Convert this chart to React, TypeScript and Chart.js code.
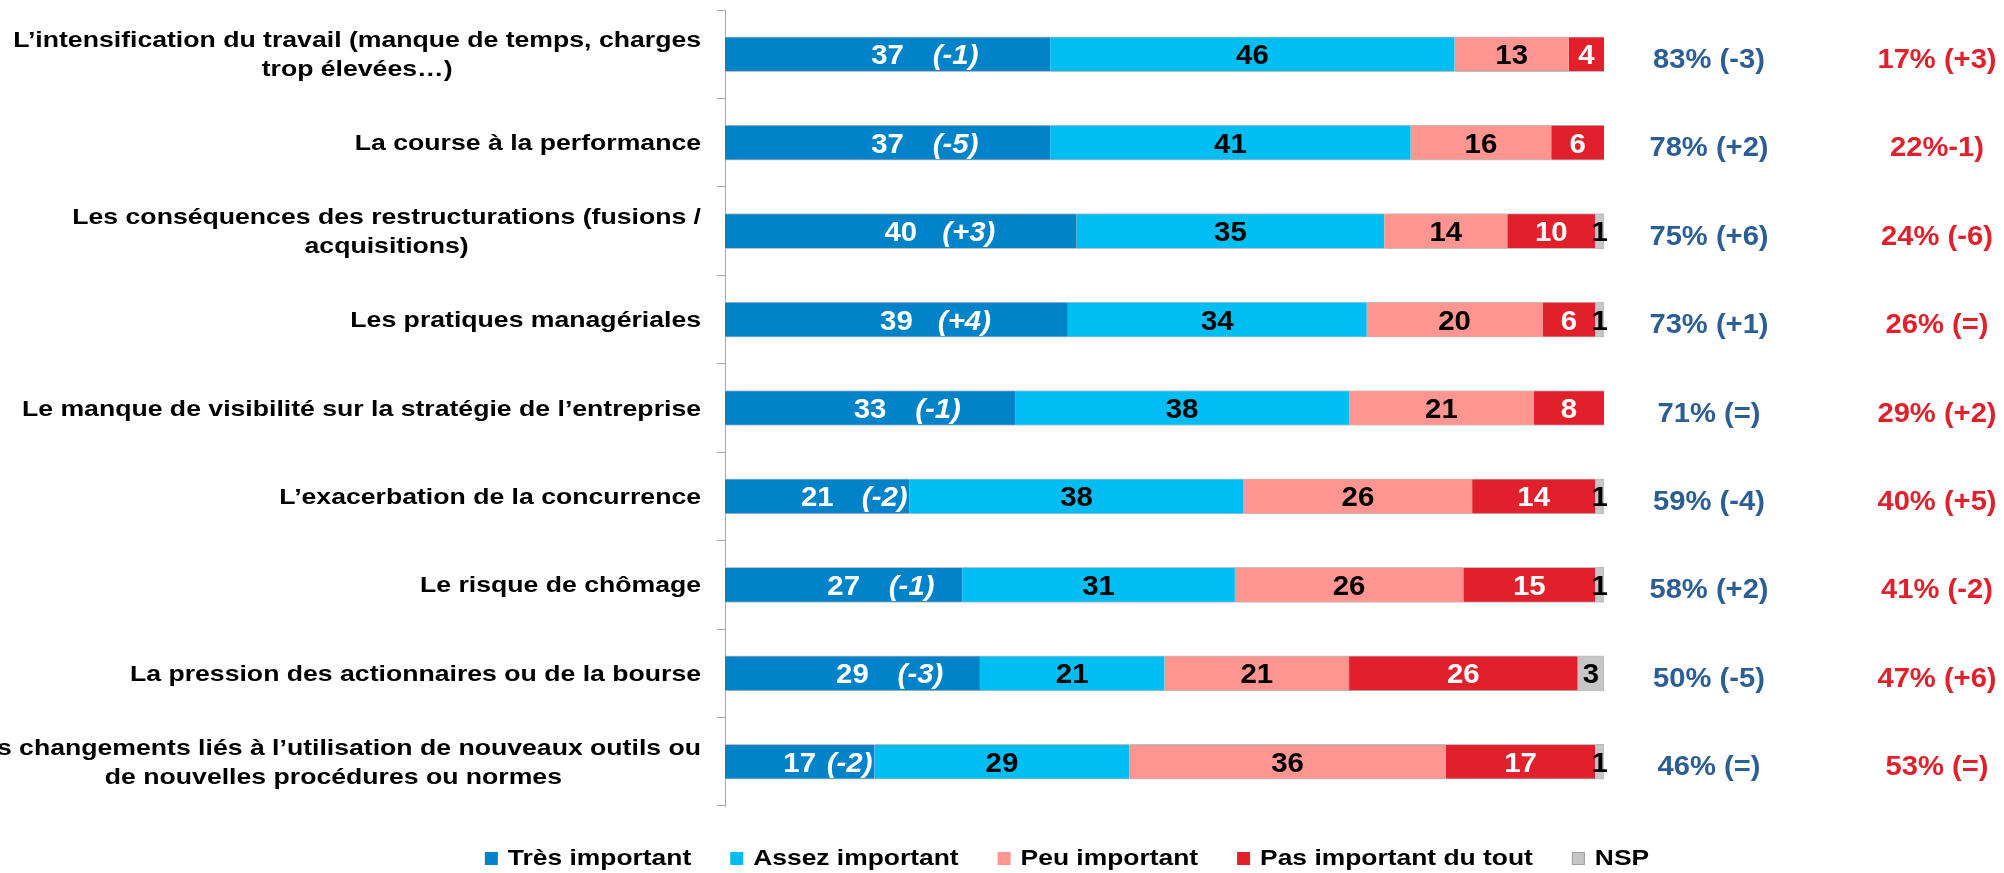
import React, { useEffect, useRef } from "react";
import { Chart, registerables } from "chart.js";

Chart.register(...registerables);

// ---------- Data ----------
const categories: string[][] = [
  ["L’intensification du travail (manque de temps, charges", "trop élevées…)"],
  ["La course à la performance"],
  ["Les conséquences des restructurations (fusions /", "acquisitions)"],
  ["Les pratiques managériales"],
  ["Le manque de visibilité sur la stratégie de l’entreprise"],
  ["L’exacerbation de la concurrence"],
  ["Le risque de chômage"],
  ["La pression des actionnaires ou de la bourse"],
  ["Les changements liés à l’utilisation de nouveaux outils ou", "de nouvelles procédures ou normes"],
];

const seriesNames = ["Très important", "Assez important", "Peu important", "Pas important du tout", "NSP"];

const tresImportant = [37, 37, 40, 39, 33, 21, 27, 29, 17];
const assezImportant = [46, 41, 35, 34, 38, 38, 31, 21, 29];
const peuImportant = [13, 16, 14, 20, 21, 26, 26, 21, 36];
const pasImportant = [4, 6, 10, 6, 8, 14, 15, 26, 17];
const nsp = [0, 0, 1, 1, 0, 1, 1, 3, 1];

const evolutions = ["(-1)", "(-5)", "(+3)", "(+4)", "(-1)", "(-2)", "(-1)", "(-3)", "(-2)"];
const totalImportant = ["83% (-3)", "78% (+2)", "75% (+6)", "73% (+1)", "71% (=)", "59% (-4)", "58% (+2)", "50% (-5)", "46% (=)"];
const totalPasImportant = ["17% (+3)", "22%-1)", "24% (-6)", "26% (=)", "29% (+2)", "40% (+5)", "41% (-2)", "47% (+6)", "53% (=)"];

// ---------- Styles ----------
const seriesColors = ["#0083C9", "#00BEF2", "#FF9591", "#E2202C", "#C6C6C6"];
const valueColors = ["#FFFFFF", "#000000", "#000000", "#FFFFFF", "#000000"];
const FONT = '"Liberation Sans", Arial, Helvetica, sans-serif';
const BLUE_TEXT = "#2C5E96";
const RED_TEXT = "#E2202C";

function drawText(
  ctx: CanvasRenderingContext2D,
  text: string,
  x: number,
  y: number,
  font: string,
  color: string,
  sx: number,
  align: CanvasTextAlign
) {
  ctx.save();
  ctx.font = font;
  ctx.fillStyle = color;
  ctx.textAlign = align;
  ctx.textBaseline = "alphabetic";
  ctx.translate(x, y);
  ctx.scale(sx, 1);
  ctx.fillText(text, 0, 0);
  ctx.restore();
}

const overlayPlugin = {
  id: "overlay",
  afterDatasetsDraw(chart: any) {
    const ctx: CanvasRenderingContext2D = chart.ctx;
    const area = chart.chartArea;
    const yScale = chart.scales.y;

    // values inside the bars
    chart.data.datasets.forEach((ds: any, di: number) => {
      const meta = chart.getDatasetMeta(di);
      meta.data.forEach((el: any, i: number) => {
        const v = ds.data[i];
        if (!v) return;
        const p = el.getProps(["x", "y", "base"], true);
        const cx = (p.x + p.base) / 2;
        drawText(ctx, String(v), cx, p.y + 10, `bold 28px ${FONT}`, valueColors[di], 1.05, "center");
        if (di === 0) {
          // evolution annotation
          ctx.save();
          ctx.font = `italic bold 28px ${FONT}`;
          const aw = ctx.measureText(evolutions[i]).width * 1.05;
          ctx.font = `bold 28px ${FONT}`;
          const nw = ctx.measureText(String(v)).width * 1.05;
          ctx.restore();
          let ax = cx + 68;
          ax = Math.min(ax, p.x - aw / 2 - 2);
          ax = Math.max(ax, cx + nw / 2 + aw / 2);
          drawText(ctx, evolutions[i], ax, p.y + 10, `italic bold 28px ${FONT}`, "#FFFFFF", 1.05, "center");
        }
      });
    });

    // category labels (left)
    categories.forEach((lines, i) => {
      const cy = yScale.getPixelForValue(i);
      ctx.save();
      ctx.font = `bold 22px ${FONT}`;
      const sx = 1.21;
      const maxW = Math.max(...lines.map((l) => ctx.measureText(l).width)) * sx;
      ctx.restore();
      const right = area.left - 24;
      const centerX = right - maxW / 2;
      const n = lines.length;
      lines.forEach((line, li) => {
        const by = cy + 7.5 + (li - (n - 1) / 2) * 29.5;
        drawText(ctx, line, centerX, by, `bold 22px ${FONT}`, "#000000", sx, "center");
      });
    });

    // totals (right)
    categories.forEach((_, i) => {
      const cy = yScale.getPixelForValue(i);
      drawText(ctx, totalImportant[i], area.right + 105, cy + 13.5, `bold 27px ${FONT}`, BLUE_TEXT, 1.08, "center");
      drawText(ctx, totalPasImportant[i], area.right + 333, cy + 13.5, `bold 27px ${FONT}`, RED_TEXT, 1.08, "center");
    });

    // legend
    const sxL = 1.2;
    ctx.save();
    ctx.font = `bold 22px ${FONT}`;
    const widths = seriesNames.map((s) => ctx.measureText(s).width * sxL);
    ctx.restore();
    const box = 13;
    const gapBox = 10;
    const gapItem = 39;
    const total = widths.reduce((a, w) => a + box + gapBox + w, 0) + gapItem * (seriesNames.length - 1);
    let x = 1067 - total / 2;
    const legendBaseline = 865;
    seriesNames.forEach((name, k) => {
      ctx.save();
      ctx.fillStyle = seriesColors[k];
      ctx.fillRect(x, legendBaseline - 13, box, box);
      if (k === 4) {
        ctx.strokeStyle = "#A0A0A0";
        ctx.lineWidth = 1;
        ctx.strokeRect(x + 0.5, legendBaseline - 12.5, box - 1, box - 1);
      }
      ctx.restore();
      drawText(ctx, name, x + box + gapBox, legendBaseline, `bold 22px ${FONT}`, "#000000", sxL, "left");
      x += box + gapBox + widths[k] + gapItem;
    });
  },
};

export default function App() {
  const canvasRef = useRef<HTMLCanvasElement | null>(null);

  useEffect(() => {
    if (!canvasRef.current) return;
    const seriesValues = [tresImportant, assezImportant, peuImportant, pasImportant, nsp];
    const chart = new Chart(canvasRef.current, {
      type: "bar",
      data: {
        labels: categories.map((c) => c.join(" ")),
        datasets: seriesNames.map((name, k) => ({
          label: name,
          data: seriesValues[k],
          backgroundColor: seriesColors[k],
          borderColor: "#BDBDBD",
          borderWidth: { top: 1, bottom: 1, left: 0, right: k === 4 ? 1 : 0 },
          borderSkipped: false,
          barThickness: 35,
        })),
      },
      options: {
        indexAxis: "y",
        responsive: false,
        animation: false,
        layout: { padding: { left: 717, right: 400, top: 10, bottom: 67 } },
        scales: {
          x: { stacked: true, min: 0, max: 100, display: false },
          y: {
            stacked: true,
            grid: {
              offset: true,
              drawOnChartArea: false,
              drawTicks: true,
              tickLength: 8,
              color: "#A6A6A6",
            },
            border: { display: true, color: "#A6A6A6", width: 1 },
            ticks: { display: false },
            afterFit: (s: any) => {
              s.width = 8;
            },
          },
        },
        plugins: {
          legend: { display: false },
          tooltip: { enabled: false },
        },
      } as any,
      plugins: [overlayPlugin],
    });
    return () => chart.destroy();
  }, []);

  return (
    <div style={{ position: "fixed", left: 0, top: 0, width: 2004, height: 873, background: "#FFFFFF" }}>
      <canvas ref={canvasRef} width={2004} height={873} style={{ display: "block" }} />
    </div>
  );
}
